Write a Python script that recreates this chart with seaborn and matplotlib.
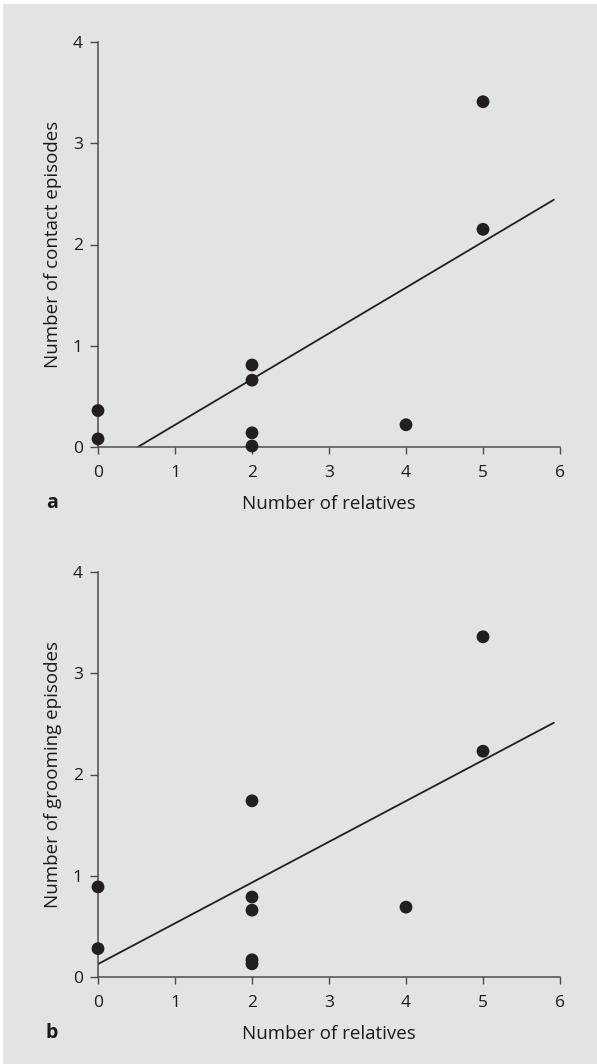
import numpy as np
import pandas as pd
import seaborn as sns
import matplotlib.pyplot as plt
from matplotlib.patches import Rectangle

sns.set_theme(style="ticks")
plt.rcParams['font.family'] = ['Open Sans', 'DejaVu Sans']

# Panel a: contact episodes vs. number of relatives
relatives_a = [0, 0, 2, 2, 2, 2, 4, 5, 5]
contact_episodes = [0.36, 0.08, 0.81, 0.66, 0.14, 0.01, 0.22, 3.41, 2.15]

# Panel b: grooming episodes vs. number of relatives
relatives_b = [0, 0, 2, 2, 2, 2, 2, 4, 5, 5]
grooming_episodes = [0.89, 0.28, 1.74, 0.79, 0.66, 0.17, 0.13, 0.69, 3.36, 2.23]

x_ticks = [0, 1, 2, 3, 4, 5, 6]
y_ticks = [0, 1, 2, 3, 4]
x_label = "Number of relatives"
panels = [
    ("a", relatives_a, contact_episodes, "Number of contact episodes"),
    ("b", relatives_b, grooming_episodes, "Number of grooming episodes"),
]

BG = "#e2e3e5"
INK = "#231f20"
SPINE = "#4d4d4f"
TEXT = "#1a1a1a"
W, H = 597, 1064

fig = plt.figure(figsize=(W / 100, H / 100), dpi=100, facecolor="white")
fig.patches.append(Rectangle((3 / W, 0), 1, 1 - 4 / H, transform=fig.transFigure,
                             facecolor=BG, edgecolor="none", zorder=-10))

left = 98 / W
width = (560 - 98) / W
height = 405 / H
bottoms = [1 - 447 / H, 1 - 977 / H]
letter_y = [503, 1033]

for (letter, xs, ys, ylab), bottom, ly in zip(panels, bottoms, letter_y):
    ax = fig.add_axes([left, bottom, width, height])
    ax.set_facecolor("none")
    df = pd.DataFrame({"x": xs, "y": ys})
    # fitted line runs from 0 up to just short of the last tick
    ax.set_xlim(0, 5.92)
    sns.regplot(data=df, x="x", y="y", ax=ax, ci=None, truncate=False,
                color=INK,
                scatter_kws={"s": 85, "edgecolor": "none", "clip_on": False,
                             "zorder": 3, "alpha": 1},
                line_kws={"color": INK, "lw": 1.3, "zorder": 2})
    ax.set_xlim(0, 6)
    ax.set_ylim(0, 4)
    ax.set_xticks(x_ticks)
    ax.set_yticks(y_ticks)
    sns.despine(ax=ax)
    for s in ("left", "bottom"):
        ax.spines[s].set_color(SPINE)
        ax.spines[s].set_linewidth(1.1)
    ax.tick_params(axis="y", length=5.5, width=1, color=SPINE, pad=5.5,
                   labelsize=12.5, labelcolor=TEXT)
    ax.tick_params(axis="x", length=5, width=1, color=SPINE, pad=8,
                   labelsize=12.5, labelcolor=TEXT)
    ax.set_xlabel(x_label, fontsize=13.5, color=TEXT, va="center")
    ax.set_ylabel(ylab, fontsize=13.5, color=TEXT, va="center")
    ax.xaxis.set_label_coords(0.5, (447 - 504) / 405)
    ax.yaxis.set_label_coords((53 - 98) / 462, 0.5)
    fig.text(52 / W, 1 - ly / H, letter, fontsize=14, fontweight="bold",
             ha="center", va="center", color=TEXT)

fig.savefig("out.png", dpi=100, facecolor=fig.get_facecolor())
